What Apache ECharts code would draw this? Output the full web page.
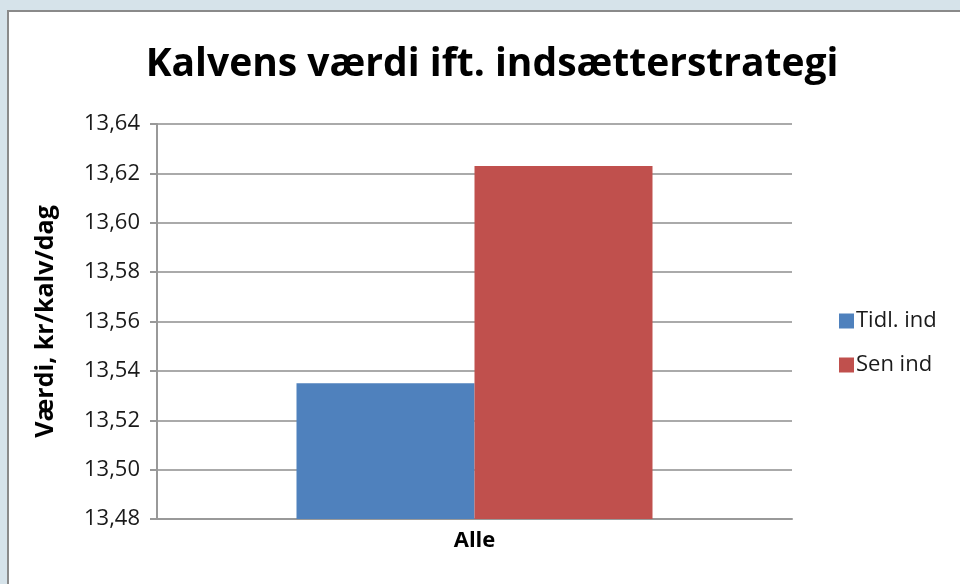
<!DOCTYPE html>
<html>
<head>
<meta charset="utf-8">
<script src="https://cdn.jsdelivr.net/npm/echarts@6/dist/echarts.min.js"></script>
<style>
  html, body { margin: 0; padding: 0; background: #d6e3ea; }
  #chart { width: 960px; height: 584px; }
</style>
</head>
<body>
<div id="chart"></div>
<script>
// Calf value per insemination strategy (kr per calf per day)
const categories = ['Alle'];
const seriesNames = ['Tidl. ind', 'Sen ind'];
const tidligValues = [13.535];
const senValues = [13.623];
const yMin = 13.48;
const yMax = 13.64;
const yStep = 0.02;

const chart = echarts.init(document.getElementById('chart'), null, { renderer: 'canvas' });
const font = "'Open Sans', 'Noto Sans', sans-serif";

chart.setOption({
  backgroundColor: '#d6e3ea',
  animation: false,
  graphic: [
    {
      type: 'rect',
      z: -10,
      shape: { x: 8, y: 11, width: 980, height: 600 },
      style: { fill: '#ffffff', stroke: '#8a8a8a', lineWidth: 2 }
    }
  ],
  title: {
    text: 'Kalvens værdi ift. indsætterstrategi',
    left: 487,
    top: 40,
    textAlign: 'center',
    textStyle: { fontFamily: font, fontWeight: 'bold', fontSize: 39, color: '#000000' }
  },
  legend: {
    orient: 'vertical',
    left: 834,
    top: 305,
    itemWidth: 15,
    itemHeight: 15,
    itemGap: 22,
    icon: 'rect',
    textStyle: { fontFamily: font, fontSize: 22, color: '#1a1a1a', padding: [0, 0, 0, -3] },
    data: seriesNames
  },
  grid: { left: 157, right: 168, top: 124, bottom: 65, containLabel: false },
  xAxis: {
    type: 'category',
    data: categories,
    axisLine: { show: true, lineStyle: { color: '#999999', width: 2 } },
    axisTick: { show: false },
    axisLabel: { fontFamily: font, fontWeight: 'bold', fontSize: 22, color: '#000000', margin: 11 }
  },
  yAxis: {
    type: 'value',
    min: yMin,
    max: yMax,
    interval: yStep,
    name: 'Værdi, kr/kalv/dag',
    nameLocation: 'middle',
    nameGap: 99,
    nameRotate: 90,
    nameTextStyle: { fontFamily: font, fontWeight: 'bold', fontSize: 25, color: '#000000' },
    axisLine: { show: true, lineStyle: { color: '#999999', width: 2 } },
    axisTick: { show: true, length: 7, lineStyle: { color: '#999999', width: 2 } },
    splitLine: { show: true, lineStyle: { color: '#aaaaaa', width: 2 } },
    axisLabel: {
      fontFamily: font,
      fontSize: 22,
      color: '#1a1a1a',
      margin: 17,
      formatter: v => v.toFixed(2).replace('.', ',')
    }
  },
  series: [
    {
      name: seriesNames[0],
      type: 'bar',
      data: tidligValues,
      barWidth: 178,
      barGap: '0%',
      itemStyle: { color: '#4f81bd' }
    },
    {
      name: seriesNames[1],
      type: 'bar',
      data: senValues,
      barWidth: 178,
      barGap: '0%',
      itemStyle: { color: '#c0504d' }
    }
  ]
});
</script>
</body>
</html>
